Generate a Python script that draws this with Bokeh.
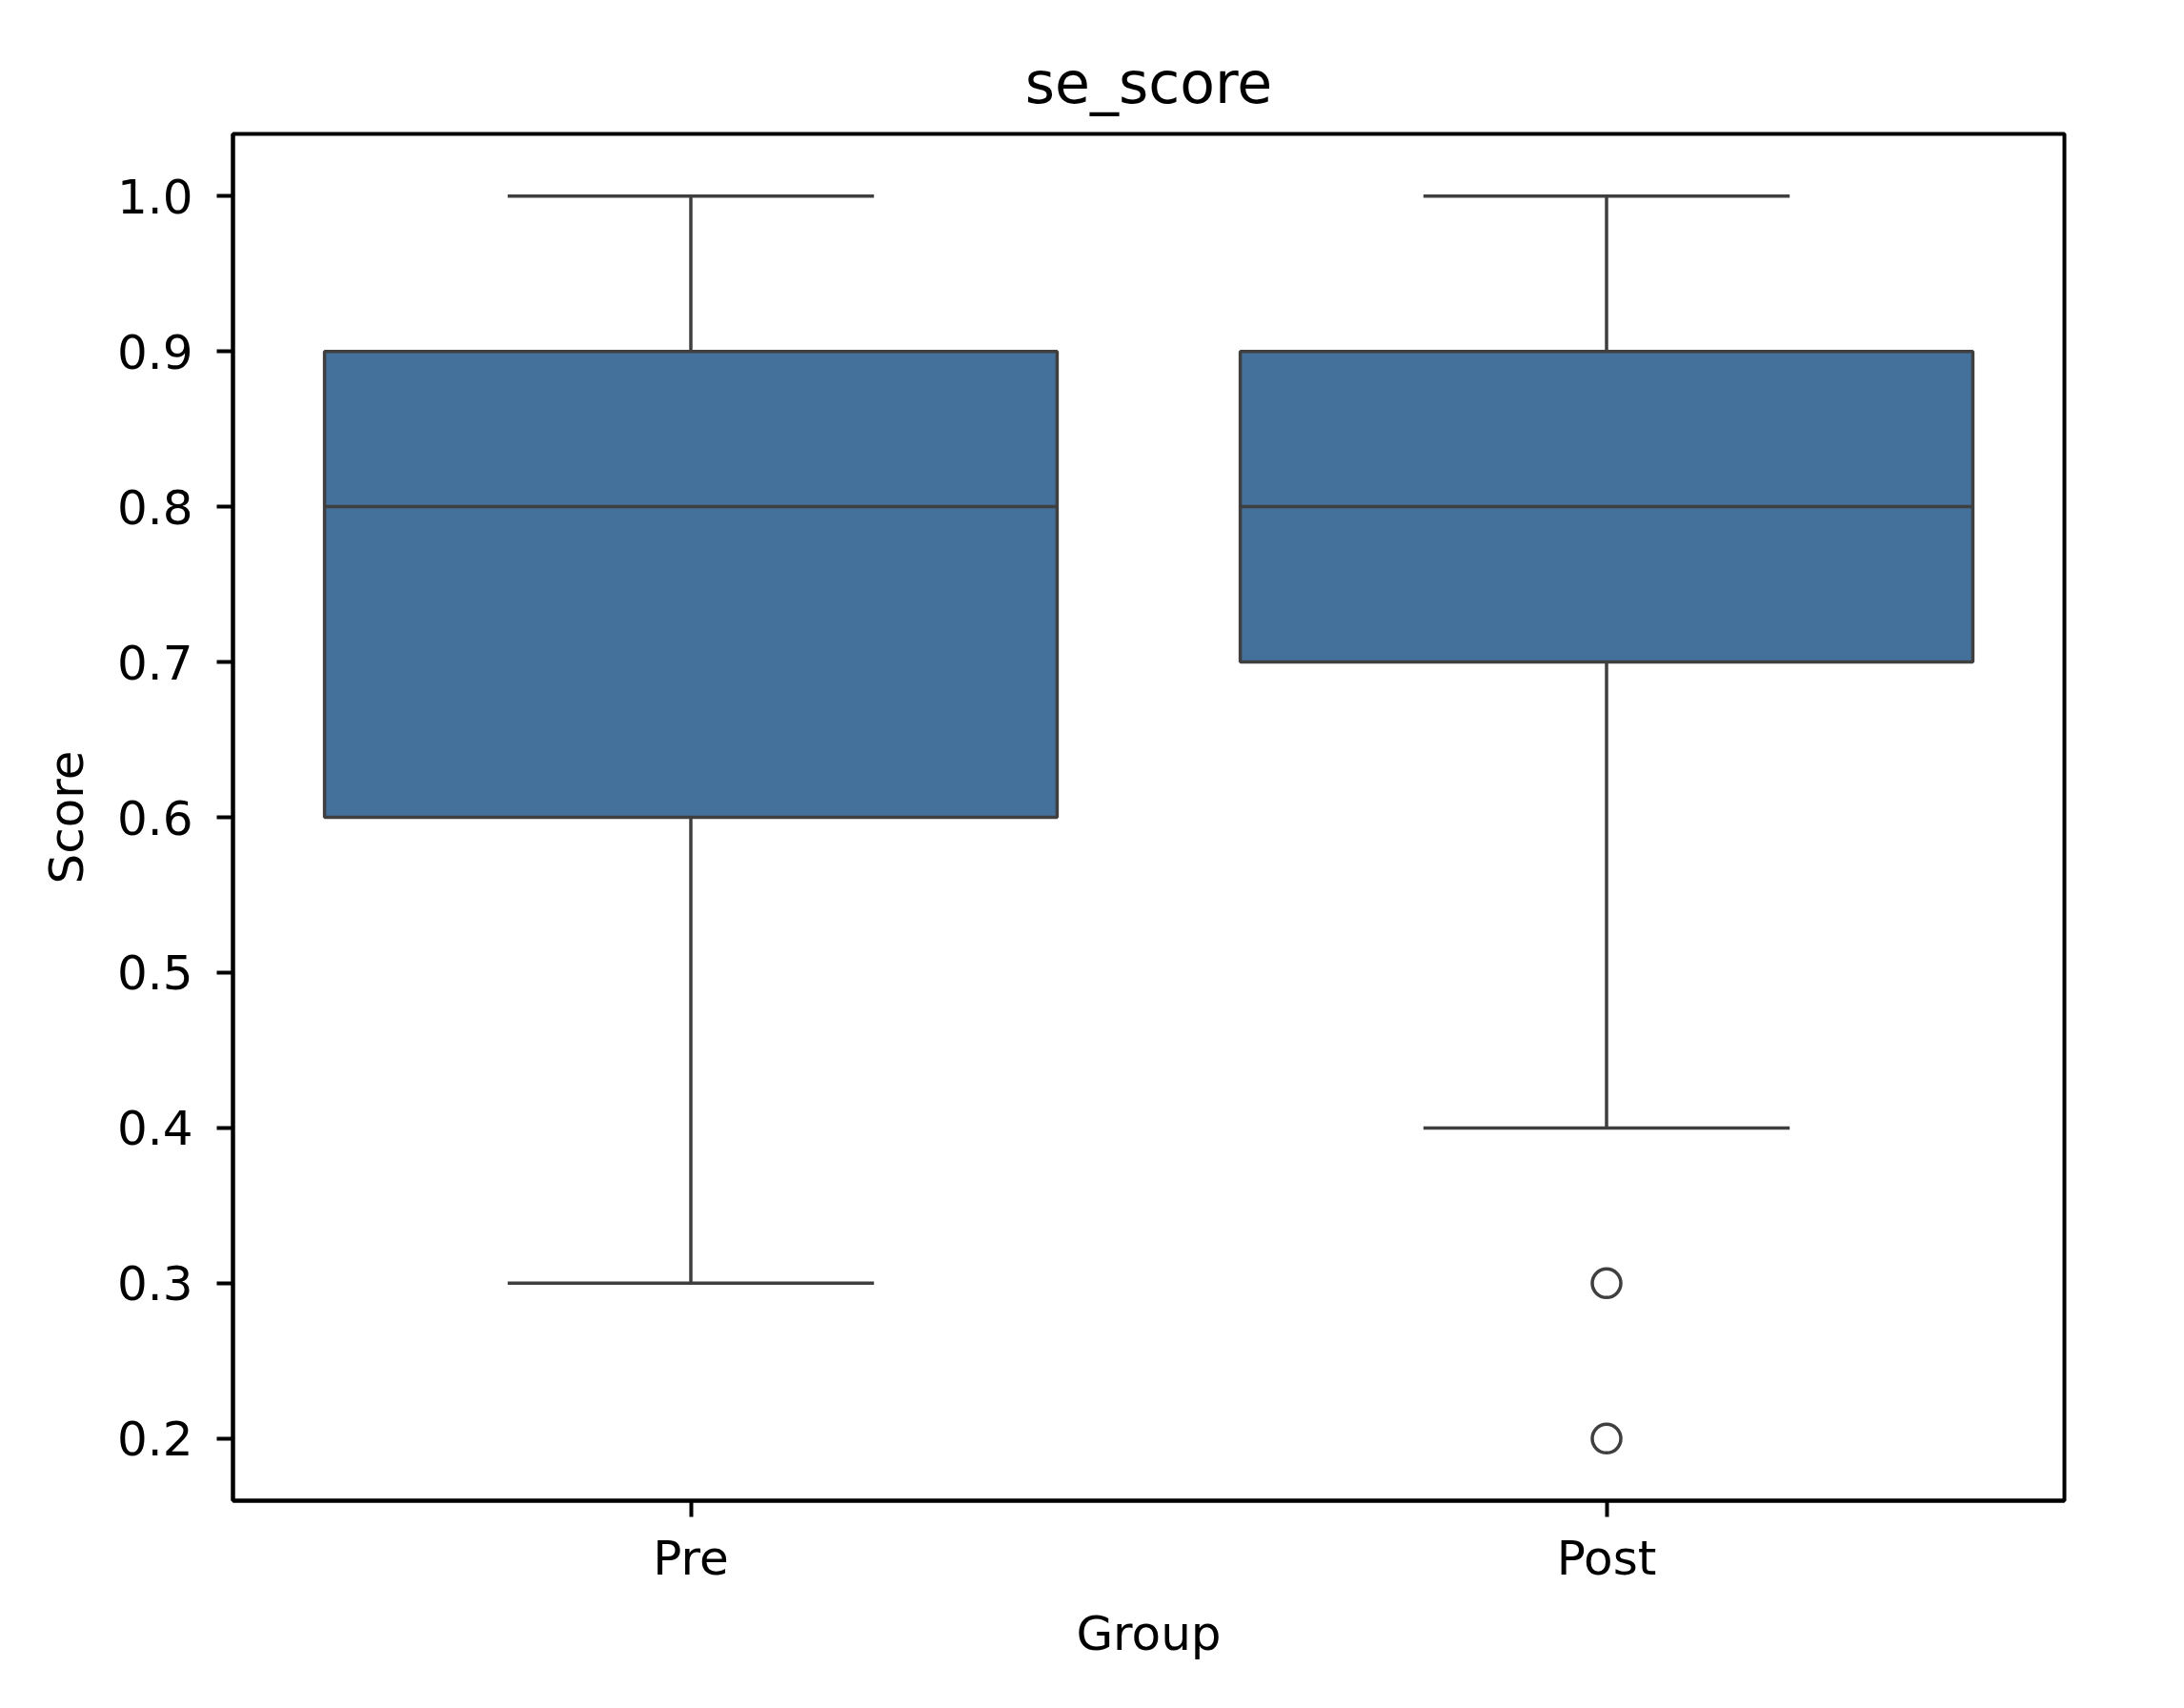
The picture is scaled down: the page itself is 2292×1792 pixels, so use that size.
from bokeh.plotting import figure
from bokeh.models import Range1d, FixedTicker, Title
from bokeh.embed import file_html
from bokeh.resources import INLINE

# ---- data ----
groups = ["Pre", "Post"]
q1 = [0.6, 0.7]
median = [0.8, 0.8]
q3 = [0.9, 0.9]
whisker_low = [0.3, 0.4]
whisker_high = [1.0, 1.0]
outlier_group = ["Post", "Post"]
outlier_value = [0.3, 0.2]
y_ticks = [0.2, 0.3, 0.4, 0.5, 0.6, 0.7, 0.8, 0.9, 1.0]

FONT = "DejaVu Sans"
BOX = "#44719c"
EDGE = "#3f3f3f"
LW = 3.5

xpos = list(range(len(groups)))
ox = [groups.index(g) for g in outlier_group]
box_w = 0.8
cap_w = 0.4

p = figure(width=2276, height=1776, output_backend="svg", toolbar_location=None,
           x_range=Range1d(-0.5, len(groups) - 0.5), y_range=Range1d(0.16, 1.04),
           min_border_left=244, min_border_right=110, min_border_top=140,
           min_border_bottom=202)
p.title = Title(text="se_score", text_font=FONT, text_font_size="60px",
                text_font_style="normal", align="center", text_color="#000000",
                standoff=38)

p.vbar(x=xpos, width=box_w, bottom=q1, top=q3, fill_color=BOX,
       line_color=EDGE, line_width=LW)
p.segment(x0=[x - box_w / 2 for x in xpos], x1=[x + box_w / 2 for x in xpos],
          y0=median, y1=median, line_color=EDGE, line_width=LW)
p.segment(x0=xpos, x1=xpos, y0=q3, y1=whisker_high, line_color=EDGE, line_width=LW)
p.segment(x0=xpos, x1=xpos, y0=q1, y1=whisker_low, line_color=EDGE, line_width=LW)
p.segment(x0=[x - cap_w / 2 for x in xpos], x1=[x + cap_w / 2 for x in xpos],
          y0=whisker_high, y1=whisker_high, line_color=EDGE, line_width=LW)
p.segment(x0=[x - cap_w / 2 for x in xpos], x1=[x + cap_w / 2 for x in xpos],
          y0=whisker_low, y1=whisker_low, line_color=EDGE, line_width=LW)
p.scatter(x=ox, y=outlier_value, size=30, marker="circle", fill_color=None,
          line_color=EDGE, line_width=LW)

p.xgrid.visible = False
p.ygrid.visible = False
p.outline_line_color = "#000000"
p.outline_line_width = 4

p.xaxis.ticker = FixedTicker(ticks=xpos)
p.xaxis.major_label_overrides = {i: g for i, g in enumerate(groups)}
p.yaxis.ticker = FixedTicker(ticks=y_ticks)
p.yaxis.major_label_overrides = {t: f"{t:.1f}" for t in y_ticks}

for ax in (p.xaxis[0], p.yaxis[0]):
    ax.axis_line_color = "#000000"
    ax.axis_line_width = 4
    ax.major_tick_line_color = "#000000"
    ax.major_tick_line_width = 4
    ax.major_tick_out = 17
    ax.major_tick_in = 0
    ax.minor_tick_line_color = None
    ax.major_label_text_font = FONT
    ax.major_label_text_font_size = "50px"
    ax.major_label_text_color = "#000000"
    ax.axis_label_text_font = FONT
    ax.axis_label_text_font_size = "50px"
    ax.axis_label_text_font_style = "normal"
    ax.axis_label_text_color = "#000000"

p.xaxis.axis_label = "Group"
p.yaxis.axis_label = "Score"
p.xaxis.major_label_standoff = 14
p.xaxis.axis_label_standoff = 18
p.yaxis.major_label_standoff = 25
p.yaxis.axis_label_standoff = 21

open("out.html", "w").write(file_html(p, INLINE))
